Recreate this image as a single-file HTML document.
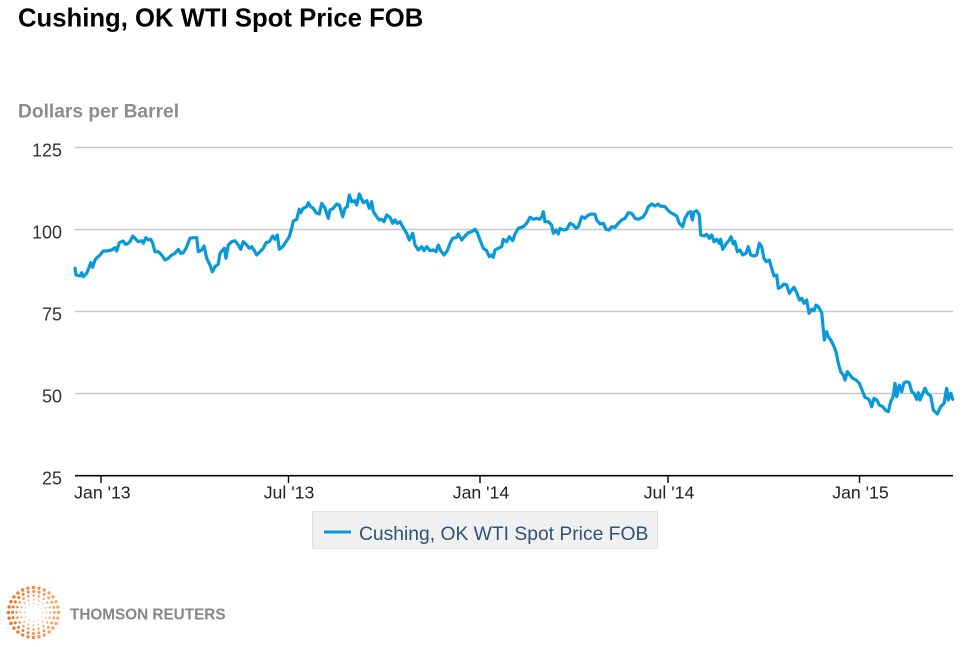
<!DOCTYPE html>
<html><head><meta charset="utf-8"><style>
html,body{margin:0;padding:0;background:#fff;}
svg{display:block;}
text{font-family:"Liberation Sans",Arial,sans-serif;}
</style></head><body>
<svg width="970" height="647" viewBox="0 0 970 647" xmlns="http://www.w3.org/2000/svg">
<defs>
<linearGradient id="og" x1="0" y1="0" x2="1" y2="0">
<stop offset="0" stop-color="#f26d12"/><stop offset="1" stop-color="#f8a868"/>
</linearGradient>
</defs>
<rect width="970" height="647" fill="#fff"/>
<text x="18" y="26.7" font-size="25.7" font-weight="bold" fill="#000">Cushing, OK WTI Spot Price FOB</text>
<text x="18" y="117.3" font-size="19.2" font-weight="bold" fill="#8c8c8c">Dollars per Barrel</text>

<g stroke="#c8c8c8" stroke-width="1.5">
<line x1="75" y1="147.5" x2="953" y2="147.5"/>
<line x1="75" y1="229.5" x2="953" y2="229.5"/>
<line x1="75" y1="311.5" x2="953" y2="311.5"/>
<line x1="75" y1="393.5" x2="953" y2="393.5"/>
</g>
<g font-size="18" fill="#333" text-anchor="end">
<text x="62" y="156.5">125</text>
<text x="62" y="238.5">100</text>
<text x="62" y="320.5">75</text>
<text x="62" y="402.5">50</text>
<text x="62" y="484.5">25</text>
</g>
<line x1="75" y1="475.7" x2="953" y2="475.7" stroke="#000" stroke-width="1.6"/>
<g stroke="#000" stroke-width="1.4">
<line x1="101" y1="475" x2="101" y2="483"/>
<line x1="288.5" y1="475" x2="288.5" y2="483"/>
<line x1="480" y1="475" x2="480" y2="483"/>
<line x1="668" y1="475" x2="668" y2="483"/>
<line x1="859.5" y1="475" x2="859.5" y2="483"/>
</g>
<g font-size="17.7" fill="#222" text-anchor="middle">
<text x="102.4" y="498.3">Jan '13</text>
<text x="289" y="498.3">Jul '13</text>
<text x="481" y="498.3">Jan '14</text>
<text x="669" y="498.3">Jul '14</text>
<text x="860.5" y="498.3">Jan '15</text>
</g>

<polyline fill="none" stroke="#0899da" stroke-width="3.2" stroke-linejoin="round" stroke-linecap="round" points="75,268.3 76,275 80,276 81.7,272.7 83.3,276.7 86.7,273.3 89.3,266.7 90.7,262.7 92.7,267.3 95,260 97.3,257.3 100,255 103.3,251 106.7,251 111.7,250 115,247.7 116.7,251 119.3,242.7 121.7,241.7 123.3,241 125,244 126.7,244.3 130,241.7 132.7,236 135,238.3 138.3,241.7 141.7,240.7 143.3,243.3 146,237.7 148.3,240 150.7,239.3 152.7,243.3 155,251.7 158.3,251.7 161.7,255 165,260 168.3,258.3 171.7,255 175,253.3 178.3,249.3 180.7,253.3 183.3,252.7 186,248.3 190,238.3 193.3,237.7 196.7,237.7 198.3,251.7 201.7,250 204,246 206.7,258.3 210,265 212.3,271.7 215,266.7 218.3,264 220,253.3 222.7,250 224.3,248.3 226,258.3 228.3,245 231.7,241.7 235,240.7 238.3,245 240.7,249.3 243.3,241.7 246.7,245 249.3,248.3 251.7,246.7 254,250 256.7,255 260,251.7 263.3,248.3 266,242.7 269.3,241.7 272.7,236 275,239.3 277.3,235 279.3,249.3 282.7,246.7 286,241.7 289.3,236.7 291.7,228.3 293.3,221 296.7,219.3 299.3,209.3 300.7,212.7 303.3,208.3 306.7,206.7 308.3,202.7 310.7,206.7 313.3,208.3 316,212.7 319.3,214 321.7,203.3 325,208.3 328.3,218.3 330,210 333.3,208.3 336.7,204 339.3,205 342.7,216.7 345,208.3 347.3,206.7 349.3,195 351.7,201.7 355,200.7 356.7,205 359.3,194 363.3,202.7 366.7,200.7 369.3,208.3 371.7,201.7 373.3,211.7 376.7,216.7 379.3,220 381.7,219.3 384,221.7 386.7,215 390,217.3 392.7,223.3 395,220 397.3,223.3 400,221.7 402.7,226.7 406.7,233.3 409.3,240 412.7,233.3 415,245 418.3,250 421.7,246.7 424,250.7 426.7,246.7 430,250.7 433.3,250 436,251.7 438.3,245 440.7,250.7 444,255 447.3,250.7 450,243.3 452.7,238.3 456.7,237.3 458.3,234 461.7,240 465,236 468.3,232.7 471.7,231.7 475,229.3 477.3,232.7 480,240 483.3,248.3 486.7,250.7 489.3,256.7 491.7,255 493.3,257.3 495,250 498.3,248.3 501.7,246.7 503.3,239.3 506.7,241.7 509.3,236.7 512.7,240.7 515,234 518.3,228.3 523.3,226.7 526.7,223.3 530,217.3 533.3,219.3 536.7,218.3 540,219.3 541.7,216.7 543.3,211.7 545,221.7 548.3,221.7 551.7,225 553.3,233.3 556,230 558.3,234 560,228.3 563.3,230 566.7,229.3 570,223.3 573.3,225 576,228.3 578.3,226.7 581.7,216.7 585,218.3 588.3,215 591.7,214 595,214.3 596.7,220 600,224 603.3,223.3 606,229.3 609.3,230 611.7,226.7 615,227.3 618.3,223.3 621.7,220 625,218.3 628.3,212.7 631.7,213.3 635,218.3 638.3,219.3 642.7,217.3 646,212.7 648.3,206.7 651.7,204 655,206 658.3,204 660,206 665,206.7 669.3,211.7 673.3,214 676.7,216 679.3,223.3 682.7,226.7 685,218.3 688.3,212.7 690.7,211.7 692.3,220 694,211.7 696.7,210.7 699.3,215 700.7,235 704,236 706.7,234.3 709.3,238.3 711.7,235 714,241.7 716.7,239.3 719.3,243.3 720.7,239.3 722.7,249.3 726,244 729.3,240 731,236.7 733.3,244 735,241.7 737.3,251.7 740,250 742.7,255 746,253.3 748.3,246.7 750.7,255 754,256 756.7,255 759.3,243.3 761.7,246.7 764,258.3 766,261.7 769.3,260 771.7,268.3 774,276 776.7,275 778.3,288.3 780.7,287.3 784,284 786.7,285 789.3,293.3 791.7,290 794,287.3 796.7,292.7 799.3,300 801.7,298.3 804,303.3 806.7,300 809,313.3 811.7,309.3 814,310.7 816,305 818.3,306.7 821.7,312.7 824.3,340 826.7,331.7 828.3,336.7 830.7,340 833.3,345 836,351.7 838.3,363.3 840.7,371.7 843.3,375 845,380 847.3,371.7 850,375 852.7,378.3 856,380 859.3,383.3 862.7,391.7 865,397.3 867.3,398.3 869.3,400 871.7,406.7 874,398.3 876.7,400 879.3,405 882.7,406.7 886,410.7 888.3,411.7 890.7,401.7 893.3,396 895,383.3 896.7,396.7 899.3,385 901.7,391.7 904,382.7 906.7,381.7 909.3,382.7 911.7,391.7 914,393.3 916.7,399.3 918.3,392.7 920,400 922.7,393.3 925,388.3 927.3,393.3 930.7,396 933.3,410 937.3,414 940.7,406.7 944,403.3 946.7,388.3 948.3,400 950.7,393.3 952.7,399.3"/>

<rect x="312.5" y="511.5" width="345" height="37" fill="#f0f0f0" stroke="#e2e2e2" stroke-width="1"/>
<line x1="324" y1="532" x2="351" y2="532" stroke="#0899da" stroke-width="3"/>
<text x="359" y="540" font-size="19.3" fill="#2e5276">Cushing, OK WTI Spot Price FOB</text>

<g fill="none" stroke="url(#og)" stroke-linecap="round">
<circle cx="33.5" cy="612.5" r="9" stroke-width="1.4" stroke-dasharray="0 4.71" opacity="0.6"/>
<circle cx="33.5" cy="612.5" r="13" stroke-width="1.9" stroke-dasharray="0 5.1" opacity="0.7"/>
<circle cx="33.5" cy="612.5" r="17" stroke-width="2.5" stroke-dasharray="0 5.34" opacity="0.85"/>
<circle cx="33.5" cy="612.5" r="21" stroke-width="3" stroke-dasharray="0 5.5"/>
<circle cx="33.5" cy="612.5" r="25" stroke-width="3.4" stroke-dasharray="0 5.6"/>
</g>
<text x="70" y="619.5" font-size="15.3" font-weight="bold" fill="#858585">THOMSON REUTERS</text>
</svg>
</body></html>
